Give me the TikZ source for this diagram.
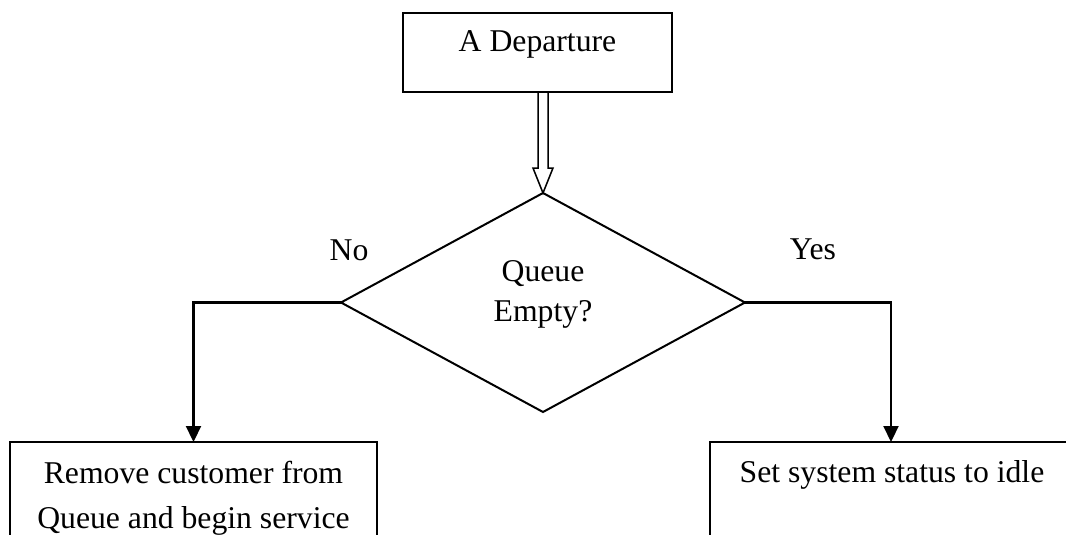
\documentclass[tikz,border=0pt]{standalone}
\usepackage{fontspec}
\setmainfont{Liberation Serif}
\usetikzlibrary{shapes.geometric,arrows.meta,calc}
\begin{document}
\begin{tikzpicture}[x=1pt,y=-1pt,
  box/.style={draw,line width=2.2pt,inner sep=0pt,outer sep=0pt},
  fnt/.style={font=\fontsize{31.7}{45}\selectfont,inner sep=0pt},
  txt/.style={font=\fontsize{31.7}{45}\selectfont,inner sep=0pt,align=center},
  link/.style={line width=2.2pt,-{Triangle[length=16pt,width=15pt]}},
  dbl/.style={line width=1.5pt,line join=miter}
  ]
\clip (0,0) rectangle (1066,535);
\fill[white] (0,0) rectangle (1066,535);

\node[box,fnt,text height=39pt,text depth=40pt,minimum width=269pt,anchor=north] (dep) at (537.5,13) {A Departure};

\node[draw,diamond,line width=2pt,minimum width=404pt,minimum height=219pt,inner sep=0pt,outer sep=0pt] (q) at (543,302.5) {};
\node[txt,anchor=north,font=\fontsize{31.7}{40}\selectfont] (qtxt) at (543,260.6) {Queue\\Empty?};

\coordinate (top) at (q.north |- dep.south);
\draw[dbl] ($(top)+(-5,0)$) -- ($(top)+(-5,76)$) -- ($(top)+(-10,76)$) -- (q.north)
  -- ($(top)+(10,76)$) -- ($(top)+(5,76)$) -- ($(top)+(5,0)$);

\node[box,minimum width=367pt,minimum height=150pt,anchor=north] (remove) at (193.5,442) {};
\node[box,minimum width=362pt,minimum height=150pt,anchor=north] (set) at (891,442) {};

\node[txt,anchor=north] (remtxt) at (193.5,460.5) {Remove customer from\\Queue and begin service};
\node[txt,anchor=north] (settxt) at (892,460.5) {Set system status to idle};

\node[fnt,anchor=base] (no) at (349,260) {No};
\node[fnt,anchor=base] (yes) at (813,259) {Yes};

\draw[link] (q.west) -| (remove.north);
\draw[link] (q.east) -| (set.north);
\end{tikzpicture}
\end{document}
